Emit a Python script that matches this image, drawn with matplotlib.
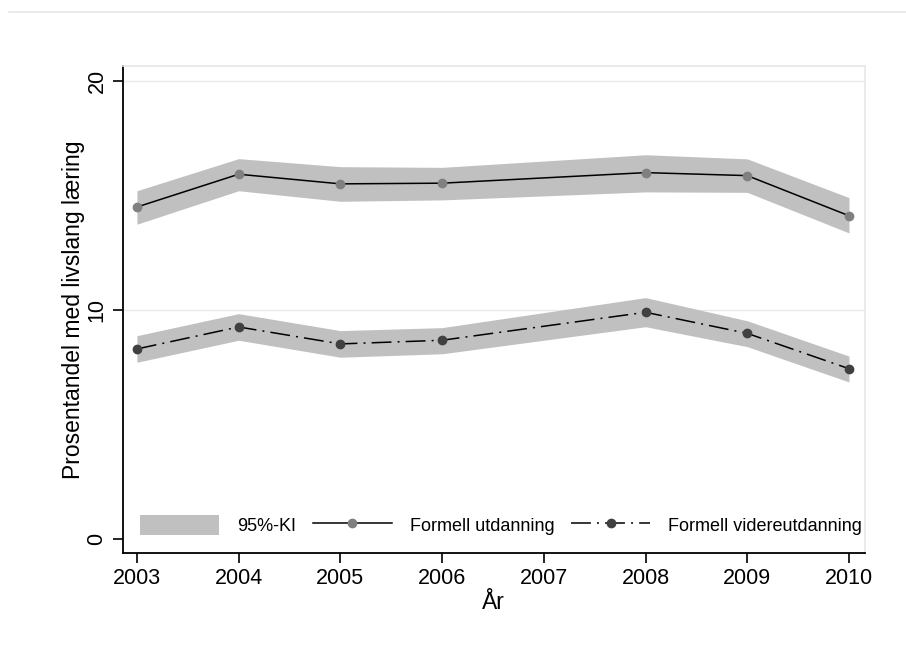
import matplotlib
matplotlib.use('Agg')

import matplotlib.pyplot as plt
from matplotlib.lines import Line2D
from matplotlib.patches import Patch

plt.rcParams['font.family'] = ['Liberation Sans', 'DejaVu Sans']

# 2007 is missing in both series, the lines just run across it
years = [2003, 2004, 2005, 2006, 2008, 2009, 2010]

formell = [14.49, 15.92, 15.50, 15.53, 15.99, 15.86, 14.11]
formell_lo = [13.74, 15.20, 14.74, 14.80, 15.15, 15.13, 13.36]
formell_hi = [15.20, 16.60, 16.25, 16.22, 16.77, 16.59, 14.90]

videre = [8.30, 9.26, 8.52, 8.68, 9.90, 8.98, 7.44]
videre_lo = [7.72, 8.68, 7.94, 8.09, 9.27, 8.40, 6.86]
videre_hi = [8.88, 9.84, 9.10, 9.23, 10.54, 9.53, 7.99]

xticks = list(range(2003, 2011))
yticks = [0, 10, 20]
labels = ['95%-KI', 'Formell utdanning', 'Formell videreutdanning']

band_col = '#c0c0c0'
dash_dot = (13, 4, 1.3, 4)

fig = plt.figure(figsize=(9.06, 6.66), dpi=100)
ax = fig.add_axes([0.1354, 0.1697, 0.9547 - 0.1354, 0.9009 - 0.1697])

# faint outer frame line at the top of the image
fig.add_artist(Line2D([0.01, 1.0], [1 - 12 / 666, 1 - 12 / 666], color='#e8e8e8', lw=1.2))

for y in [10, 20]:
    ax.axhline(y, color='#eaeaea', lw=1.0, zorder=0)

ax.fill_between(years, formell_lo, formell_hi, color=band_col, lw=0, zorder=1)
ax.fill_between(years, videre_lo, videre_hi, color=band_col, lw=0, zorder=1)

ax.plot(years, formell, color='black', lw=1.1, zorder=2)
ax.plot(years, formell, 'o', color='#808080', ms=6, zorder=3)

ax.plot(years, videre, color='black', lw=1.1, dashes=dash_dot, zorder=2)
ax.plot(years, videre, 'o', color='#404040', ms=6, zorder=3)

ax.set_xlim(2002.86, 2010.157)
ax.set_ylim(-0.597, 20.64)
ax.set_xticks(xticks)
ax.set_yticks(yticks)
ax.tick_params(axis='both', labelsize=15.5, length=7, width=1.2, color='black')
plt.setp(ax.get_yticklabels(), rotation=90, va='center')
ax.tick_params(axis='y', pad=4)

for s in ['left', 'bottom']:
    ax.spines[s].set_color('black')
    ax.spines[s].set_linewidth(1.3)
for s in ['top', 'right']:
    ax.spines[s].set_color('#e8e8e8')
    ax.spines[s].set_linewidth(1.2)

ax.set_xlabel('År', fontsize=16.5, labelpad=2)
ax.set_ylabel('Prosentandel med livslang læring', fontsize=16.5, labelpad=1)

handles = [
    Patch(facecolor=band_col, edgecolor='none'),
    Line2D([], [], color='black', lw=1.1, marker='o', markersize=6,
           markerfacecolor='#808080', markeredgecolor='#808080'),
    Line2D([], [], color='black', lw=1.1, dashes=dash_dot, marker='o', markersize=6,
           markerfacecolor='#404040', markeredgecolor='#404040'),
]
ax.legend(handles, labels, loc='center', bbox_to_anchor=(0.5097, 0.0575),
          ncol=3, frameon=False, fontsize=13, handlelength=4.4, handleheight=1.35,
          handletextpad=1.0, columnspacing=0.9, borderaxespad=0, borderpad=0)

plt.savefig('out.png', dpi=100)
plt.close()
